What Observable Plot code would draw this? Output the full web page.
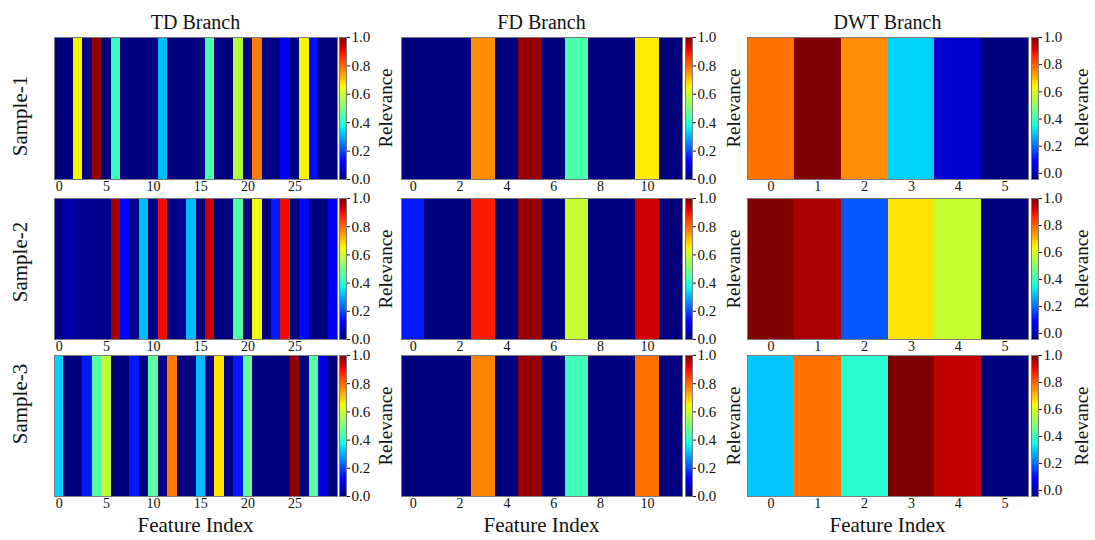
<!DOCTYPE html>
<html><head><meta charset="utf-8">
<script src="https://cdn.jsdelivr.net/npm/d3@7"></script>
<script src="https://cdn.jsdelivr.net/npm/@observablehq/plot@0.6"></script>
<style>
body{margin:0;background:#fff;}
#fig{position:relative;width:1095px;height:540px;overflow:hidden;font-family:"Liberation Serif","Times New Roman",Times,"Tinos","Noto Serif","DejaVu Serif","FreeSerif",serif;color:#111;}
#fig svg, #fig svg text{font-family:"Liberation Serif","Times New Roman",Times,"Tinos","Noto Serif","DejaVu Serif","FreeSerif",serif !important;}
.abs{position:absolute;}
.lbl{position:absolute;white-space:nowrap;line-height:1;transform:translate(-50%,-50%);}
.rot{transform:translate(-50%,-50%) rotate(-90deg);}
</style></head><body><div id="fig"></div>
<script>
// ---- data ----
const branches = ["TD Branch", "FD Branch", "DWT Branch"];
const samples = ["Sample-1", "Sample-2", "Sample-3"];
const xLabel = "Feature Index";
const cbarLabel = "Relevance";
const tdTicks = [0, 5, 10, 15, 20, 25];
const fdTicks = [0, 2, 4, 6, 8, 10];
const dwtTicks = [0, 1, 2, 3, 4, 5];
const cbarTicks = [0.0, 0.2, 0.4, 0.6, 0.8, 1.0];

const td1 = [0, 0, 0.65, 0, 0.98, 0, 0.42, 0, 0, 0, 0, 0.31, 0, 0, 0, 0, 0.44, 0, 0, 0.57, 0, 0.78, 0, 0, 0.12, 0, 0.65, 0.14, 0, 0];
const td2 = [0.01, 0.04, 0.02, 0.02, 0.015, 0.01, 0.97, 0.13, 0, 0.31, 0, 0.9, 0, 0.02, 0.31, 0, 0.93, 0, 0, 0.45, 0, 0.64, 0, 0.15, 0.9, 0, 0.13, 0, 0, 0.12];
const td3 = [0.33, 0, 0, 0.15, 0.45, 0.58, 0, 0, 0.15, 0, 0.46, 0, 0.78, 0, 0, 0.31, 0, 0.67, 0, 0.15, 0.47, 0, 0, 0, 0, 0.98, 0, 0.45, 0.08, 0];
const fd1 = [0, 0, 0, 0.76, 0, 0.98, 0, 0.44, 0, 0, 0.66, 0];
const fd2 = [0.15, 0, 0, 0.88, 0, 0.98, 0, 0.59, 0, 0, 0.93, 0];
const fd3 = [0, 0, 0, 0.77, 0, 0.98, 0, 0.43, 0, 0, 0.79, 0];
const dwt1 = [0.78, 1.0, 0.75, 0.30, 0.03, -0.045];
const dwt2 = [1.0, 0.96, 0.175, 0.655, 0.57, -0.045];
const dwt3 = [0.29, 0.78, 0.37, 1.0, 0.94, -0.045];

const tdRange = [0, 1];
const fdRange = [0, 1];
const dwtRange = [-0.045, 1];

// ---- jet colormap (matplotlib breakpoints) ----
function jet(t) {
  t = Math.max(0, Math.min(1, t));
  const r = t < 0.35 ? 0 : t < 0.66 ? (t - 0.35) / 0.31 : t < 0.89 ? 1 : 1 - (t - 0.89) / 0.11 * 0.5;
  const g = t < 0.125 ? 0 : t < 0.375 ? (t - 0.125) / 0.25 : t < 0.64 ? 1 : t < 0.91 ? 1 - (t - 0.64) / 0.27 : 0;
  const b = t < 0.11 ? 0.5 + t / 0.11 * 0.5 : t < 0.34 ? 1 : t < 0.65 ? 1 - (t - 0.34) / 0.31 : 0;
  return d3.rgb(r * 255, g * 255, b * 255).formatHex();
}
const jetStops = [0, 0.11, 0.125, 0.34, 0.35, 0.375, 0.64, 0.65, 0.66, 0.89, 0.91, 1];
function colorScale([lo, hi]) {
  return {
    type: "linear",
    domain: jetStops.map(t => lo + t * (hi - lo)),
    range: jetStops.map(jet),
    interpolate: "rgb",
    clamp: true
  };
}

// ---- layout ----
const cols = [
  {x: 54, w: 283, cb: 339, rel: 385, ticks: tdTicks, range: tdRange, rows: [td1, td2, td3]},
  {x: 401, w: 281, cb: 685, rel: 733, ticks: fdTicks, range: fdRange, rows: [fd1, fd2, fd3]},
  {x: 747, w: 281, cb: 1031, rel: 1081, ticks: dwtTicks, range: dwtRange, rows: [dwt1, dwt2, dwt3]}
];
const rows = [{y: 37, h: 142, lab: 116}, {y: 198, h: 141, lab: 262}, {y: 355, h: 141, lab: 404}];
const cbW = 7;
const frameColor = "#7a7a7a";
const font = '"Liberation Serif","Times New Roman",Times,"Tinos","Noto Serif","DejaVu Serif","FreeSerif",serif';

const fig = document.getElementById("fig");
function place(el, left, top) {
  el.classList.add("abs");
  el.style.left = left + "px";
  el.style.top = top + "px";
  fig.appendChild(el);
}
function label(text, x, y, size, rotate) {
  const d = document.createElement("div");
  d.className = "lbl" + (rotate ? " rot" : "");
  d.textContent = text;
  d.style.left = x + "px";
  d.style.top = y + "px";
  d.style.fontSize = size + "px";
  d.style.fontFamily = font;
  fig.appendChild(d);
}

cols.forEach((c, ci) => {
  label(branches[ci], c.x + c.w / 2, 22, 20, false);
  label(xLabel, c.x + c.w / 2, 525, 21, false);
  rows.forEach((r, ri) => {
    const vals = c.rows[ri];
    const data = vals.map((v, i) => ({i, v}));
    const heat = Plot.plot({
      width: c.w,
      height: r.h + 18,
      marginLeft: 0, marginRight: 0, marginTop: 0, marginBottom: 18,
      style: {fontFamily: font, fontSize: "14px", color: "#111", background: "transparent", overflow: "visible"},
      x: {domain: [-0.5, vals.length - 0.5], ticks: c.ticks, tickFormat: d => d, tickSize: 0, tickPadding: 2, label: null},
      color: colorScale(c.range),
      marks: [
        Plot.rect(data, {x1: d => d.i - 0.5, x2: d => d.i + 0.5, fill: "v", shapeRendering: "crispEdges"}),
        Plot.frame({stroke: frameColor, strokeWidth: 1})
      ]
    });
    place(heat, c.x, r.y);

    // colorbar
    const [lo, hi] = c.range;
    const n = 200, step = (hi - lo) / n;
    const steps = d3.range(n).map(k => lo + k * step);
    const cb = Plot.plot({
      width: cbW + 40,
      height: r.h + 16,
      marginLeft: 0, marginRight: 40, marginTop: 8, marginBottom: 8,
      style: {fontFamily: font, fontSize: "15px", color: "#111", background: "transparent", overflow: "visible"},
      y: {domain: [lo, hi], axis: "right", ticks: cbarTicks, tickFormat: ".1f", tickSize: 3, tickPadding: 2, label: null},
      color: colorScale(c.range),
      marks: [
        Plot.rect(steps, {y1: d => d, y2: d => d + step, fill: d => d + step / 2, shapeRendering: "crispEdges"}),
        Plot.frame({stroke: frameColor, strokeWidth: 1})
      ]
    });
    place(cb, c.cb, r.y - 8);

    label(cbarLabel, c.rel, r.y + r.h / 2, 19, true);
  });
});
rows.forEach((r, ri) => label(samples[ri], 20, r.lab, 21, true));
</script>
</body></html>
